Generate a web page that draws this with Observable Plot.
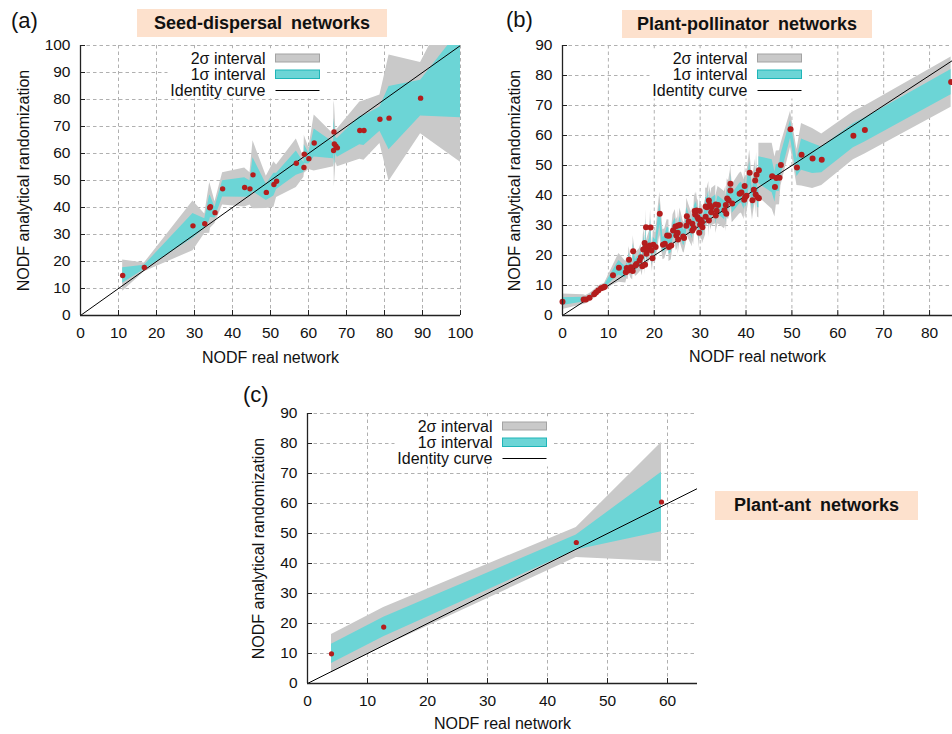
<!DOCTYPE html>
<html><head><meta charset="utf-8">
<script src="https://cdn.jsdelivr.net/npm/d3@7"></script>
<script src="https://cdn.jsdelivr.net/npm/@observablehq/plot@0.6"></script>
<style>
html,body{margin:0;padding:0;background:#fff;overflow:hidden}
#wrap{position:relative;width:952px;height:734px;font-family:"Liberation Sans",Arial,sans-serif;color:#111}
.panel{position:absolute}
.tag{position:absolute;font-size:22px;line-height:22px;color:#111}
.title{position:absolute;background:#fde1cd;font-weight:bold;font-size:18px;word-spacing:4px;display:flex;align-items:center;justify-content:center;color:#111}
</style></head><body><div id="wrap"></div>
<script>
// ---------- (a) Seed-dispersal networks ----------
const seedReal  = [11.1,16.8,29.6,32.7,34.0,34.2,35.4,37.4,43.2,44.6,45.4,48.9,50.9,51.6,56.8,58.8,58.9,60.1,61.5,66.6,66.7,66.8,67.2,67.6,73.5,74.6,78.8,81.2,89.5];
const seedMean  = [14.8,17.8,33.2,34.0,39.9,40.3,38.1,46.9,47.4,46.9,52.1,45.6,48.5,49.7,56.4,54.8,59.7,58.1,63.9,61.1,68.0,63.5,62.8,62.1,68.5,68.5,72.7,73.1,80.5];
const seedSigma = [2.9,0.8,4.6,1.8,4.7,4.0,2.0,3.0,3.6,3.0,6.3,3.0,4.2,3.0,4.5,1.8,3.5,2.0,5.2,3.0,5.0,8.0,3.0,3.5,5.3,5.5,4.5,11.7,6.6];
// band-only vertex at the right edge (no visible point)
const seedEdgeReal = [100], seedEdgeMean = [89.6], seedEdgeSigma = [16.4];

// ---------- (b) Plant-pollinator networks ----------
const pollReal = [0.0,4.6,5.1,5.9,6.9,7.3,7.8,8.4,8.9,9.2,11.0,12.3,13.8,14.0,14.3,14.5,14.9,15.3,15.4,15.9,16.1,16.8,17.1,17.4,17.6,17.9,18.0,18.1,18.2,18.3,18.7,19.0,19.2,19.4,19.6,19.8,20.3,21.2,21.9,22.3,22.8,23.2,23.2,23.7,24.1,24.6,24.8,25.1,25.2,25.2,25.6,26.3,26.5,27.0,27.1,27.5,28.3,28.3,28.6,28.8,28.9,29.2,29.4,29.6,29.8,29.9,30.0,30.1,30.2,30.4,30.5,31.2,31.2,31.5,31.9,31.9,32.1,32.4,32.5,33.4,33.4,33.6,33.9,35.3,35.6,35.7,35.9,36.2,36.6,36.6,37.0,38.6,39.0,39.6,39.7,39.8,40.1,40.8,41.4,41.7,42.0,42.1,42.3,42.5,42.8,42.8,45.7,46.3,46.6,47.3,47.6,49.7,51.1,52.1,54.5,56.5,63.4,65.9,84.7];
const pollMean = [4.6,5.3,5.3,5.9,7.1,7.7,8.3,9.1,9.3,9.6,13.4,15.9,14.4,15.8,15.0,18.6,16.1,14.8,21.4,16.7,17.2,18.3,19.4,16.4,22.0,24.2,16.9,22.8,29.4,20.6,22.2,23.3,29.3,21.7,19.1,23.6,22.8,33.9,23.6,23.9,26.7,26.6,22.8,23.3,28.3,29.7,26.7,27.6,30.0,25.3,30.2,26.3,25.8,29.9,33.1,31.3,28.3,30.6,29.2,34.8,33.7,35.0,32.8,32.2,27.6,34.8,30.3,31.9,31.3,31.1,29.4,32.9,36.3,36.1,38.3,31.7,36.8,34.4,36.1,37.0,33.3,34.9,36.8,35.1,36.8,33.9,39.0,38.4,41.7,43.9,37.3,40.6,41.0,38.6,43.2,39.4,39.9,47.6,38.4,41.9,45.0,40.3,46.9,39.4,39.1,48.4,46.4,42.8,45.8,45.9,50.2,62.1,49.3,53.6,52.3,51.9,59.9,61.8,77.8];
const pollSigma = [1.3,0.8,0.7,0.7,0.7,0.7,0.7,0.6,0.6,0.6,1.6,2.4,1.8,1.8,1.5,2.2,1.8,1.5,2.6,1.8,2.0,2.0,2.2,1.6,2.4,2.6,1.8,2.5,3.0,2.2,2.4,2.5,3.0,2.3,2.2,2.5,2.4,3.6,2.5,2.5,2.6,2.6,2.4,2.4,2.7,2.8,2.6,2.6,2.8,2.5,2.8,2.6,2.5,2.8,3.0,2.9,2.7,2.8,2.8,3.1,3.0,3.1,3.0,3.0,2.7,3.1,2.8,2.9,2.9,2.9,2.8,3.0,3.1,3.1,3.2,2.9,3.1,3.0,3.1,3.2,3.0,3.1,3.1,3.1,3.2,3.0,3.3,3.2,3.4,3.5,3.2,3.4,3.4,3.3,3.5,3.3,3.3,3.8,3.3,3.4,3.6,3.4,3.7,3.3,3.3,4.5,5.5,5.0,4.5,4.5,3.5,3.0,3.0,5.2,5.0,4.3,4.0,4.0,4.2];

// ---------- (c) Plant-ant networks ----------
const antReal  = [4.0,12.7,44.8,59.0];
const antMean  = [9.9,18.8,47.0,60.5];
const antSigma = [3.2,3.25,2.5,9.9];

// ---------- axes / labels ----------
const seedXTicks = [0,10,20,30,40,50,60,70,80,90,100];
const seedYTicks = [0,10,20,30,40,50,60,70,80,90,100];
const pollXTicks = [0,10,20,30,40,50,60,70,80];
const pollYTicks = [0,10,20,30,40,50,60,70,80,90];
const antXTicks  = [0,10,20,30,40,50,60];
const antYTicks  = [0,10,20,30,40,50,60,70,80,90];
const identityA = [0,100], identityB = [0,85], identityC = [0,65];
const xLabel = "NODF real network";
const yLabel = "NODF analytical randomization";
const legendLabels = ["2σ interval","1σ interval","Identity curve"];

const GRAY = "#c9c9c9", GRAY_EDGE = "#a3a3a3", CYAN = "#6cd5d6", CYAN_EDGE = "#1fb5b8", RED = "#b31d1d", GRID = "#b0b0b0", AXIS = "#222";

function rows(real, mean, sigma) { return real.map((x, i) => ({x, m: mean[i], s: sigma[i]})); }

function panel(o) {
  const fw = o.width - o.mL - o.mR, fh = o.height - o.mT - o.mB;
  const band = d3.sort(o.band, d => d.x);
  const kb = o.keyBox;
  const legendText = (label, dy) => Plot.text([label], {frameAnchor: "top-left", dx: 185, dy, textAnchor: "end", lineAnchor: "middle", fontSize: 16, text: d => d});
  const marks = [
    Plot.ruleX(o.xTicks.filter(t => t > o.xDomain[0]), {x: d => d, stroke: GRID, strokeWidth: 1, strokeDasharray: "3.5,3"}),
    Plot.ruleY(o.yTicks.filter(t => t > o.yDomain[0]), {y: d => d, stroke: GRID, strokeWidth: 1, strokeDasharray: "3.5,3"}),
    Plot.frame({fill: "white", stroke: "none", insetLeft: kb[0], insetRight: fw - kb[1], insetTop: kb[2], insetBottom: fh - kb[3]}),
    Plot.areaY(band, {x: "x", y1: d => d.m - 2 * d.s, y2: d => d.m + 2 * d.s, fill: GRAY, clip: true}),
    Plot.areaY(band, {x: "x", y1: d => d.m - d.s, y2: d => d.m + d.s, fill: CYAN, clip: true}),
    Plot.line(o.identity, {x: d => d, y: d => d, stroke: "#000", strokeWidth: 1, clip: true}),
    Plot.dot(o.points, {x: "x", y: "m", r: o.r, fill: RED, stroke: "none"}),
    Plot.ruleX([o.xDomain[0]], {x: d => d, stroke: AXIS, strokeWidth: 1.3}),
    Plot.ruleY([o.yDomain[0]], {y: d => d, stroke: AXIS, strokeWidth: 1.3}),
    Plot.tickX(o.xTicks, {x: d => d, insetTop: fh - 5, stroke: AXIS}),
    Plot.tickY(o.yTicks, {y: d => d, insetRight: fw - 5, stroke: AXIS}),
    Plot.text(o.xTicks, {x: d => d, frameAnchor: "bottom", dy: 17.5, lineAnchor: "middle", textAnchor: "middle", text: d => String(d)}),
    Plot.text(o.yTicks, {y: d => d, frameAnchor: "left", dx: -10, textAnchor: "end", lineAnchor: "middle", text: d => String(d)}),
    Plot.text([xLabel], {frameAnchor: "bottom", dy: o.xLabelDy, lineAnchor: "middle", textAnchor: "middle", fontSize: 16, text: d => d}),
    Plot.text([yLabel], {frameAnchor: "left", rotate: -90, dx: o.yLabelDx, textAnchor: "middle", lineAnchor: "middle", fontSize: 16, text: d => d}),
    legendText(legendLabels[0], 13),
    legendText(legendLabels[1], 29),
    legendText(legendLabels[2], 45),
    Plot.frame({fill: GRAY, stroke: GRAY_EDGE, strokeWidth: 1, insetLeft: 195, insetRight: fw - 239, insetTop: 8.5, insetBottom: fh - 16.5}),
    Plot.frame({fill: CYAN, stroke: CYAN_EDGE, strokeWidth: 1, insetLeft: 195, insetRight: fw - 239, insetTop: 24.5, insetBottom: fh - 33}),
    Plot.frame({fill: "#000", stroke: "none", insetLeft: 195, insetRight: fw - 239, insetTop: 44.5, insetBottom: fh - 45.5})
  ];
  const svg = Plot.plot({
    width: o.width, height: o.height,
    marginLeft: o.mL, marginRight: o.mR, marginTop: o.mT, marginBottom: o.mB,
    x: {domain: o.xDomain, axis: null},
    y: {domain: o.yDomain, axis: null},
    style: {fontFamily: '"Liberation Sans", Arial, sans-serif', fontSize: "15.5px", background: "transparent", color: "#111", overflow: "hidden"},
    marks
  });
  const div = document.createElement("div");
  div.className = "panel";
  div.style.left = o.left + "px"; div.style.top = o.top + "px";
  div.appendChild(svg);
  return div;
}

const wrap = document.getElementById("wrap");
wrap.appendChild(panel({
  left: 0, top: 0, width: 476, height: 370, mL: 80, mR: 16, mT: 45, mB: 55,
  xDomain: [0, 100], yDomain: [0, 100], xTicks: seedXTicks, yTicks: seedYTicks,
  band: rows(seedReal.concat(seedEdgeReal), seedMean.concat(seedEdgeMean), seedSigma.concat(seedEdgeSigma)),
  points: rows(seedReal, seedMean, seedSigma), identity: identityA, r: 2.7,
  xLabelDy: 42, yLabelDx: -57, keyBox: [87, 245, 3, 53]
}));
wrap.appendChild(panel({
  left: 476, top: 0, width: 476, height: 370, mL: 86, mR: 0, mT: 45, mB: 55,
  xDomain: [0, 85], yDomain: [0, 90], xTicks: pollXTicks, yTicks: pollYTicks,
  band: rows(pollReal, pollMean, pollSigma),
  points: rows(pollReal, pollMean, pollSigma), identity: identityB, r: 3,
  xLabelDy: 41, yLabelDx: -48, keyBox: [87, 245, 3, 53]
}));
wrap.appendChild(panel({
  left: 230, top: 370, width: 480, height: 364, mL: 77, mR: 13, mT: 43, mB: 51,
  xDomain: [0, 65], yDomain: [0, 90], xTicks: antXTicks, yTicks: antYTicks,
  band: rows(antReal, antMean, antSigma),
  points: rows(antReal, antMean, antSigma), identity: identityC, r: 2.6,
  xLabelDy: 40, yLabelDx: -49, keyBox: [87, 245, 3, 53]
}));

function addTag(text, left, top) {
  const d = document.createElement("div"); d.className = "tag"; d.textContent = text;
  d.style.left = left + "px"; d.style.top = top + "px"; wrap.appendChild(d);
}
function addTitle(text, left, top, w, h) {
  const d = document.createElement("div"); d.className = "title"; d.textContent = text;
  Object.assign(d.style, {left: left + "px", top: top + "px", width: w + "px", height: h + "px"});
  wrap.appendChild(d);
}
addTag("(a)", 11, 10);
addTag("(b)", 506, 9);
addTag("(c)", 243, 384);
addTitle("Seed-dispersal networks", 137, 9, 250, 28);
addTitle("Plant-pollinator networks", 622, 10, 250, 28);
addTitle("Plant-ant networks", 715, 491, 203, 29);
</script></body></html>
